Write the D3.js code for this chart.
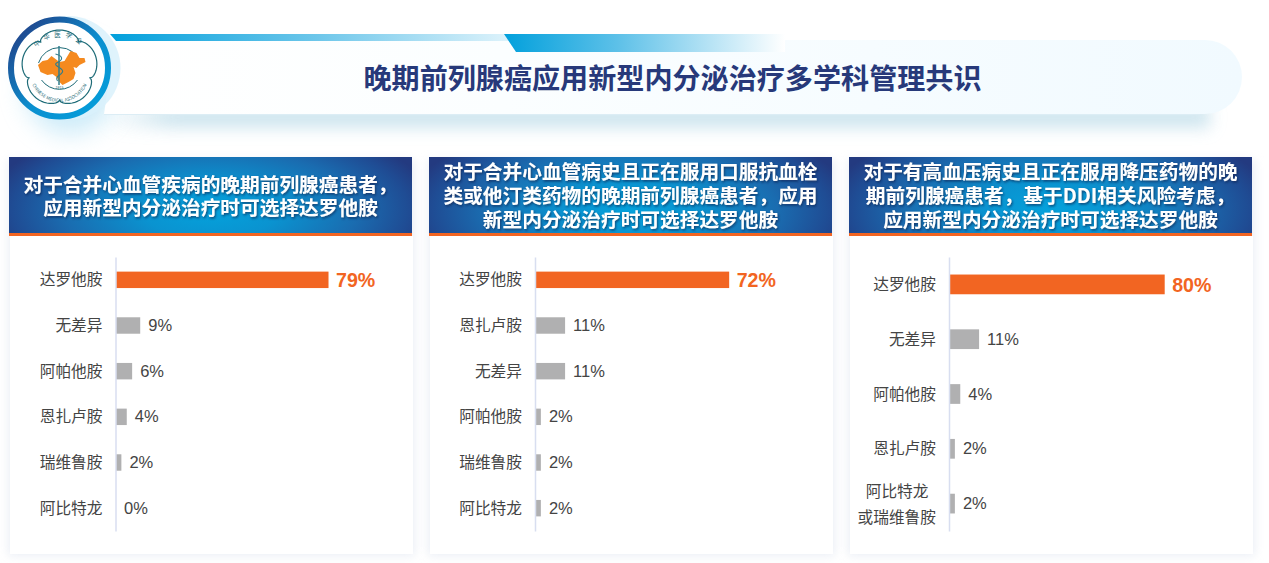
<!DOCTYPE html>
<html lang="zh"><head><meta charset="utf-8">
<script src="https://cdn.jsdelivr.net/npm/d3@7/dist/d3.min.js"></script>
<style>html,body{margin:0;padding:0;background:#fff;overflow:hidden}svg{display:block}
text{font-family:"Noto Sans CJK SC","Noto Sans",sans-serif}</style></head><body>
<div id="chart"></div>
<script>
const pageTitle = "晚期前列腺癌应用新型内分泌治疗多学科管理共识";
const headers1 = ["对于合并心血管疾病的晚期前列腺癌患者，","应用新型内分泌治疗时可选择达罗他胺"];
const headers2 = ["对于合并心血管病史且正在服用口服抗血栓","类或他汀类药物的晚期前列腺癌患者，应用","新型内分泌治疗时可选择达罗他胺"];
const headers3 = ["对于有高血压病史且正在服用降压药物的晚","期前列腺癌患者，基于DDI相关风险考虑，","应用新型内分泌治疗时可选择达罗他胺"];
const categories1 = ["达罗他胺","无差异","阿帕他胺","恩扎卢胺","瑞维鲁胺","阿比特龙"];
const values1 = [79,9,6,4,2,0];
const categories2 = ["达罗他胺","恩扎卢胺","无差异","阿帕他胺","瑞维鲁胺","阿比特龙"];
const values2 = [72,11,11,2,2,2];
const categories3 = ["达罗他胺","无差异","阿帕他胺","恩扎卢胺","阿比特龙\n或瑞维鲁胺"];
const values3 = [80,11,4,2,2];

const W=1269,H=563;
const svg=d3.select("#chart").append("svg").attr("width",W).attr("height",H);
const defs=svg.append("defs");
function grad(id,stops,x2=1,y2=0){const g=defs.append("linearGradient").attr("id",id).attr("x1",0).attr("y1",0).attr("x2",x2).attr("y2",y2);
  stops.forEach(s=>g.append("stop").attr("offset",s[0]).attr("stop-color",s[1]).attr("stop-opacity",s[2]==null?1:s[2]));}
const hdr=defs.append("radialGradient").attr("id","hdr").attr("cx",.5).attr("cy",.7).attr("r",.56).attr("gradientTransform","translate(.5 .7) scale(1 2.2) translate(-.5 -.7)");
[[0,"#04a2dc"],[.3,"#0a93d0"],[.65,"#1a6cb0"],[.88,"#1f4c94"],[1,"#233a80"]].forEach(s=>hdr.append("stop").attr("offset",s[0]).attr("stop-color",s[1]));
grad("pill",[[0,"#ffffff"],[.35,"#fbfeff"],[1,"#f1faff"]]);
grad("strip1",[[0,"#02a0dc"],[.5,"#6cc6ea"],[1,"#e4f5fc"]]);
grad("strip2",[[0,"#02a0dc"],[.4,"#5cc0e8"],[1,"#ffffff"]]);
grad("ring",[[0,"#25377f"],[.55,"#0b8fcf"],[1,"#03a0dc"]],1,1);
grad("shadowFade",[[0,"#c6e1ec",0],[.06,"#c6e1ec",1],[1,"#c6e1ec",1]]);
const blur=(id,s)=>defs.append("filter").attr("id",id).attr("x","-30%").attr("y","-80%").attr("width","160%").attr("height","260%").append("feGaussianBlur").attr("stdDeviation",s);
blur("b12",12);blur("b6",5);blur("b8",8);
const ts=defs.append("filter").attr("id","ts").attr("x","-5%").attr("y","-20%").attr("width","110%").attr("height","150%");
ts.append("feDropShadow").attr("dx",1).attr("dy",1.5).attr("stdDeviation",1.1).attr("flood-color","#0a2050").attr("flood-opacity",.7);

// ---------- banner ----------
const banner=svg.append("g");
banner.append("rect").attr("x",105).attr("y",106).attr("width",1105).attr("height",22).attr("fill","url(#shadowFade)").attr("opacity",.85).attr("filter","url(#b8)");
banner.append("circle").attr("cx",70).attr("cy",88).attr("r",46).attr("fill","#9bd8f2").attr("opacity",.5).attr("filter","url(#b12)");
banner.append("path").attr("d","M104,114 L1205,114 A37,37 0 0 0 1205,40 L115,40 Z").attr("fill","url(#pill)");
banner.append("line").attr("x1",104).attr("x2",1200).attr("y1",114.5).attr("y2",114.5).attr("stroke","#dcedf5");
banner.append("path").attr("d","M110,34 L520,34 L514,41 L116,41 Z").attr("fill","url(#strip1)");
banner.append("path").attr("d","M504,34 L785,34 L785,52 L516,52 Z").attr("fill","url(#strip2)");
banner.append("text").attr("x",672.5).attr("y",89).attr("text-anchor","middle").attr("font-size",28.1).attr("font-weight",700).attr("fill","#27397a").text(pageTitle);

// ---------- logo ----------
const logo=banner.append("g").attr("transform","translate(59.5,68)");
logo.append("circle").attr("cx",9).attr("r",52).attr("fill","#d9f1fb").attr("opacity",.85);
logo.append("circle").attr("r",48.5).attr("fill","#fff").attr("stroke","url(#ring)").attr("stroke-width",6);
const petal=d3.lineRadial().curve(d3.curveLinearClosed)(d3.range(0,180).map(i=>{const t=i*Math.PI/90;return [t,32+6*Math.pow(Math.abs(Math.cos(2.5*t)),.5)];}));
logo.append("path").attr("d",petal).attr("fill","#fff").attr("stroke","#1f6c78").attr("stroke-width",1.2);
logo.append("path").attr("d","M-21,-5 A22,22 0 0 1 21,-5").attr("fill","none").attr("stroke","#1f6c78").attr("stroke-width",1);
logo.append("path").attr("d","M-18,12 A22,22 0 0 0 18,12").attr("fill","none").attr("stroke","#1f6c78").attr("stroke-width",1);
logo.append("path").attr("d","M-21.5,-3 L-17,-7 L-12,-8 L-8,-12 L-4,-9 L0,-6 L5,-7 L8,-12 L11,-17 L17,-15 L20,-10 L25,-10 L26,-6 L20,-3 L17,0 L14,-1 L16,5 L14,11 L9,14 L3,17 L0,14 L-3,9 L-7,6 L-12,7 L-19,4 Z").attr("fill","#f58a1f");
logo.append("path").attr("d","M-0.5,-22 L-0.5,17").attr("stroke","#2f7d8c").attr("stroke-width",1.5);
logo.append("path").attr("d","M-4,-14 C4,-12 4,-8 -3,-5 C-7,-2 5,0 3,4 C1,8 -5,8 -2,13").attr("fill","none").attr("stroke","#2f7d8c").attr("stroke-width",1.1);
logo.append("path").attr("id","arcTop").attr("d","M-29,-9 A30,30 0 0 1 29,-9").attr("fill","none");
logo.append("path").attr("id","arcBot").attr("d","M-30,4 A30,30 0 0 0 30,4").attr("fill","none");
logo.append("text").attr("font-size",6.5).attr("fill","#1f6c78").attr("text-anchor","middle").append("textPath").attr("href","#arcTop").attr("startOffset","50%").attr("letter-spacing",4).text("中华医学会");
logo.append("text").attr("font-size",4.5).attr("fill","#1f6c78").attr("text-anchor","middle").append("textPath").attr("href","#arcBot").attr("startOffset","50%").text("CHINESE MEDICAL ASSOCIATION");
logo.append("text").attr("y",20.5).attr("font-size",3.5).attr("fill","#1f6c78").attr("text-anchor","middle").text("1915");

// ---------- panels ----------
const PLOT_TOP=257, PLOT_BOTTOM=531, PCT=2.69;
function panel(opt){
  const g=svg.append("g");
  const x0=opt.x, w=403;
  g.append("rect").attr("x",x0-1).attr("y",160).attr("width",w+4).attr("height",396).attr("fill","#dfe5f0").attr("opacity",.6).attr("filter","url(#b6)");
  g.append("rect").attr("x",x0+1).attr("y",236).attr("width",w).attr("height",318).attr("fill","#fff");
  g.append("rect").attr("x",x0).attr("y",157).attr("width",w).attr("height",76).attr("fill","url(#hdr)");
  g.append("rect").attr("x",x0).attr("y",233).attr("width",w).attr("height",3).attr("fill","#f26522");
  const ht=g.append("g").attr("filter","url(#ts)");
  opt.headers.forEach((t,i)=>ht.append("text").attr("x",x0+w/2+opt.hdx).attr("y",opt.hy+i*opt.hstep).attr("text-anchor","middle")
    .attr("font-size",19.7).attr("font-weight",700).attr("fill","#fff").text(t));

  const x=d3.scaleLinear().domain([0,100]).range([opt.axisX,opt.axisX+100*PCT]);
  const y=d3.scaleBand().domain(opt.categories).range([PLOT_TOP,PLOT_BOTTOM]);
  const data=opt.categories.map((c,i)=>({c,v:opt.values[i],i}));
  const barH=y.bandwidth()*.36;
  g.selectAll("rect.bar").data(data).join("rect").attr("class","bar")
    .attr("x",x(0)+.5).attr("y",d=>y(d.c)+y.bandwidth()/2-barH/2).attr("width",d=>x(d.v)-x(0)).attr("height",barH)
    .attr("fill",d=>d.i===0?"#f26522":"#b0b0b1");

  const axis=g.append("g").attr("transform",`translate(${opt.axisX},0)`).call(d3.axisLeft(y).tickSize(0).tickPadding(13));
  axis.select(".domain").attr("stroke","#d8def0").attr("stroke-width",1.5);
  axis.selectAll(".tick text").each(function(d){
    const parts=d.split("\n"), t=d3.select(this).text(null).attr("font-size",15.7).attr("fill","#444").attr("dy",null)
      .style("font-family",'"Noto Sans CJK SC",sans-serif').attr("dominant-baseline","auto");
    if(parts.length===1){t.attr("y",5.5);t.append("tspan").text(parts[0]);}
    else{
      t.attr("y",-7);
      t.append("tspan").attr("x",-13-7.5).attr("y",-7).text(parts[0]);
      t.append("tspan").attr("x",-13).attr("y",19).text(parts[1]);
    }
  });
  g.selectAll("text.val").data(data).join("text").attr("class","val")
    .attr("x",d=>x(d.v)+(d.i===0?8:8.5)).attr("y",d=>y(d.c)+y.bandwidth()/2+(d.i===0?7.5:5.5))
    .attr("font-size",d=>d.i===0?19.6:16.5).attr("font-weight",d=>d.i===0?700:400)
    .attr("fill",d=>d.i===0?"#f26522":"#444").style("font-family",'"Liberation Sans",Arial,sans-serif')
    .text(d=>d.v+"%");
}
panel({x:9,axisX:115.5,headers:headers1,categories:categories1,values:values1,hy:192,hstep:23,hdx:0});
panel({x:429,axisX:535,headers:headers2,categories:categories2,values:values2,hy:179,hstep:24,hdx:0});
panel({x:849,axisX:949,headers:headers3,categories:categories3,values:values3,hy:179,hstep:24,hdx:0});
</script></body></html>
